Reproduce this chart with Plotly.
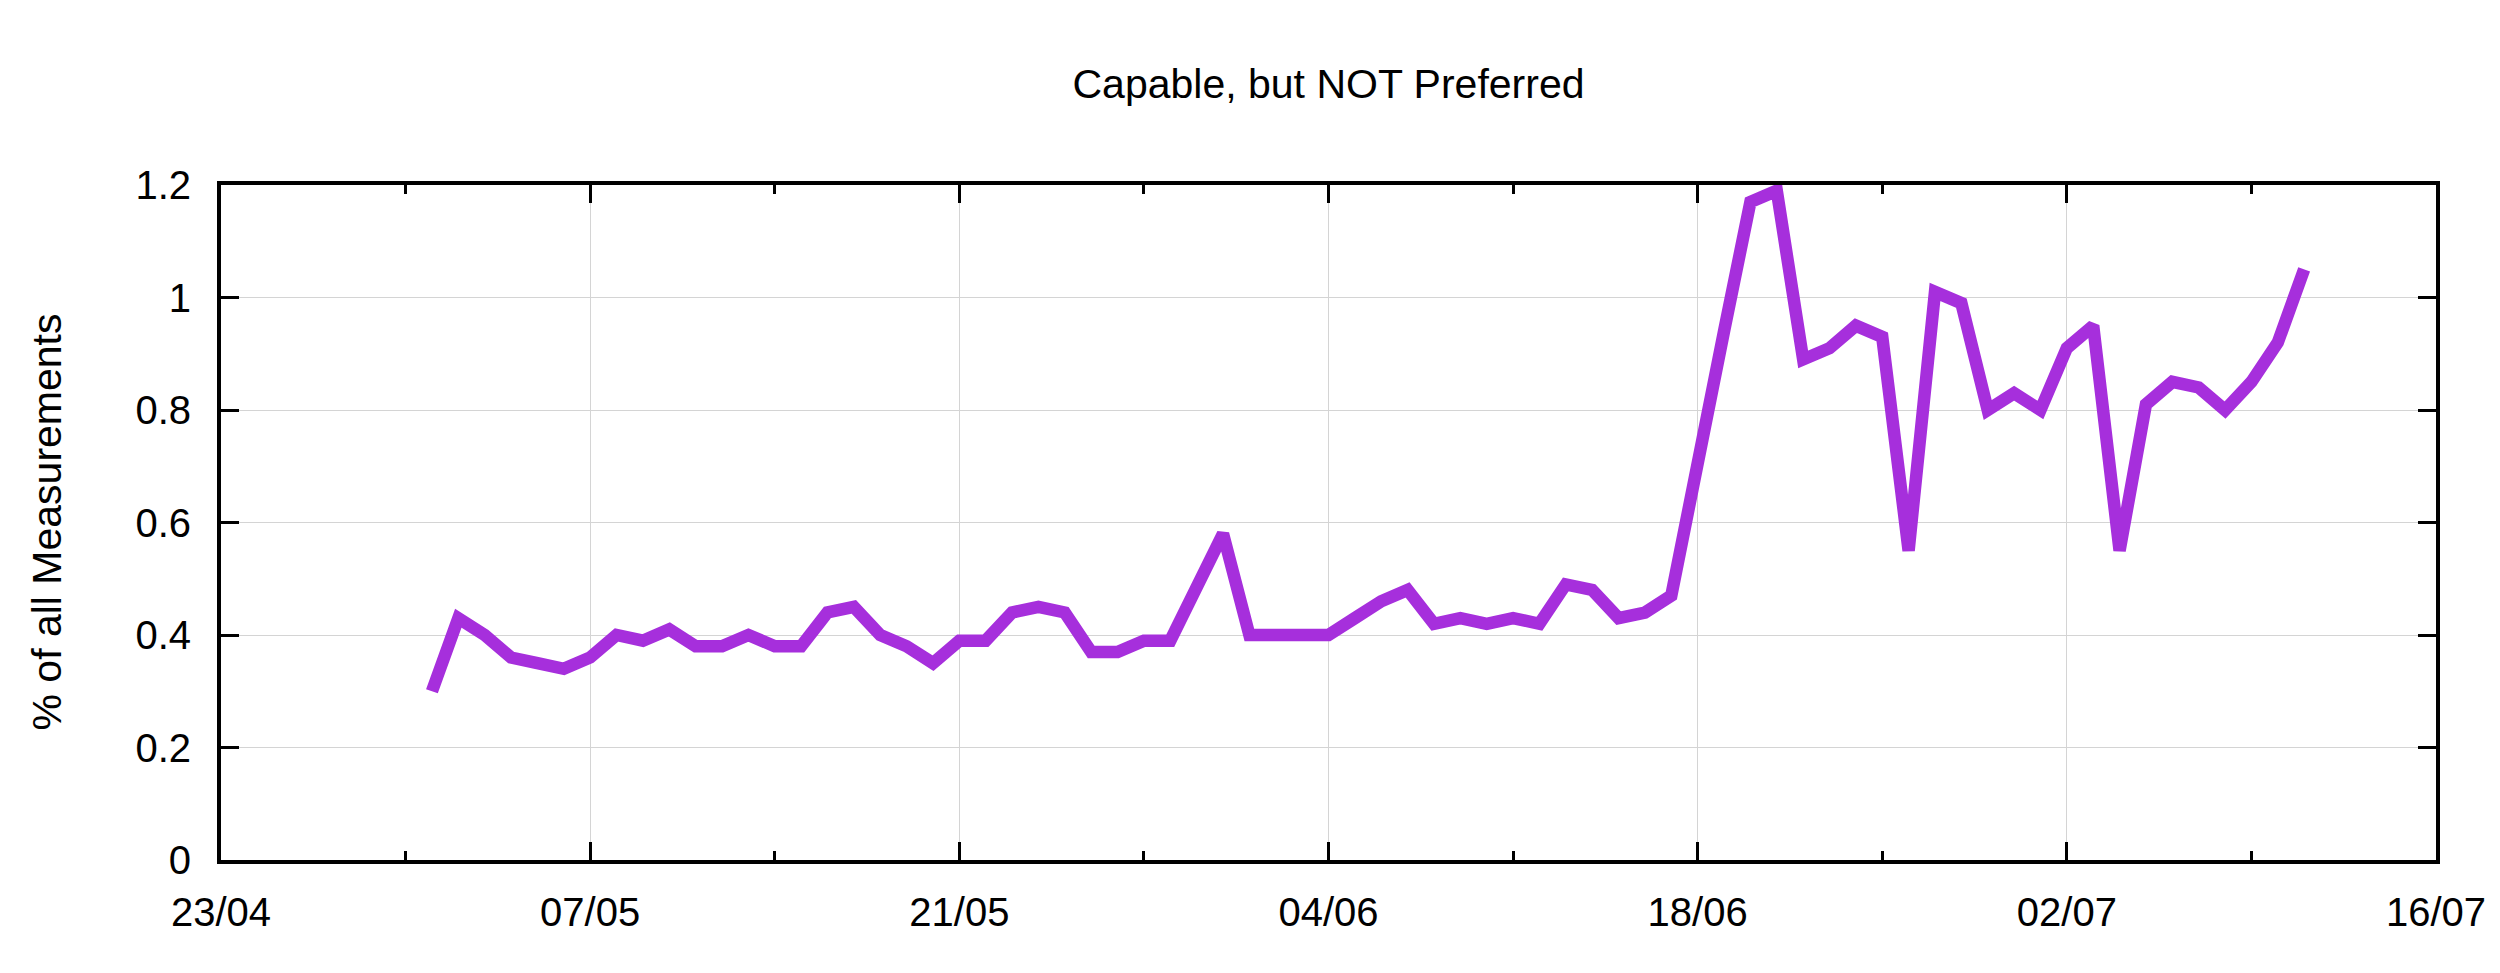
import pandas as pd
import plotly.graph_objects as go

# ---- data ----
TITLE = "Capable, but NOT Preferred"
Y_LABEL = "% of all Measurements"
START_DATE = "2018-05-01"
END_DATE = "2018-07-11"
values_may = [0.30, 0.43, 0.40, 0.36, 0.35, 0.34, 0.36, 0.40, 0.39, 0.41,
              0.38, 0.38, 0.40, 0.38, 0.38, 0.44, 0.45, 0.40, 0.38, 0.35,
              0.39, 0.39, 0.44, 0.45, 0.44, 0.37, 0.37, 0.39, 0.39, 0.48, 0.58]
values_june = [0.40, 0.40, 0.40, 0.40, 0.43, 0.46, 0.48, 0.42, 0.43, 0.42,
               0.43, 0.42, 0.49, 0.48, 0.43, 0.44, 0.47, 0.72, 0.94, 1.17,
               1.19, 0.89, 0.91, 0.95, 0.93, 0.55, 1.01, 0.99, 0.80, 0.83]
values_july = [0.80, 0.91, 0.95, 0.55, 0.81, 0.85, 0.84, 0.80, 0.85, 0.92, 1.05]
values = values_may + values_june + values_july
dates = pd.date_range(START_DATE, END_DATE, freq="D")
assert len(dates) == len(values)

X_RANGE = ["2018-04-23", "2018-07-16"]
Y_RANGE = [0, 1.2]
DAY_MS = 86400000

FONT = "Liberation Sans, Arial, Helvetica, sans-serif"
LINE_COLOR = "#A62FDC"
GRID = "#d4d4d4"
FS = 40

W, H = 2500, 973
ML, MR, MT, MB = 213, 72, 177, 121

fig = go.Figure()
fig.add_trace(go.Scatter(
    x=dates, y=values, mode="lines",
    line=dict(color=LINE_COLOR, width=12.5),
    showlegend=False, hoverinfo="x+y",
))

fig.update_layout(
    width=W, height=H,
    paper_bgcolor="white", plot_bgcolor="white",
    margin=dict(l=ML, r=MR, t=MT, b=MB),
    font=dict(family=FONT, color="black", size=FS),
    title=dict(text=TITLE, x=0.5, xref="paper", xanchor="center",
               y=1 - 76 / H, yanchor="middle",
               font=dict(family=FONT, size=41, color="black")),
    annotations=[dict(
        text=Y_LABEL, textangle=-90, xref="paper", yref="paper",
        x=(38 - ML) / (W - ML - MR), y=0.5, xanchor="center", yanchor="middle",
        showarrow=False, font=dict(family=FONT, size=41, color="black"),
    )],
)

fig.update_xaxes(
    type="date", range=X_RANGE,
    tick0=X_RANGE[0], dtick=14 * DAY_MS, tickformat="%d/%m",
    ticks="inside", ticklen=18, tickwidth=3, tickcolor="black",
    ticklabelstandoff=14,
    minor=dict(ticks="inside", ticklen=9, tickwidth=3, tickcolor="black",
               dtick=7 * DAY_MS, tick0=X_RANGE[0], showgrid=False),
    showline=True, linewidth=4, linecolor="black", mirror="allticks",
    showgrid=True, gridcolor=GRID, gridwidth=1,
    zeroline=False,
    tickfont=dict(family=FONT, size=FS, color="black"),
)

fig.update_yaxes(
    range=Y_RANGE, tick0=0, dtick=0.2,
    ticks="inside", ticklen=18, tickwidth=3, tickcolor="black",
    ticklabelstandoff=18,
    showline=True, linewidth=4, linecolor="black", mirror="allticks",
    showgrid=True, gridcolor=GRID, gridwidth=1,
    zeroline=False,
    tickfont=dict(family=FONT, size=FS, color="black"),
)

fig.write_html("out.html")
